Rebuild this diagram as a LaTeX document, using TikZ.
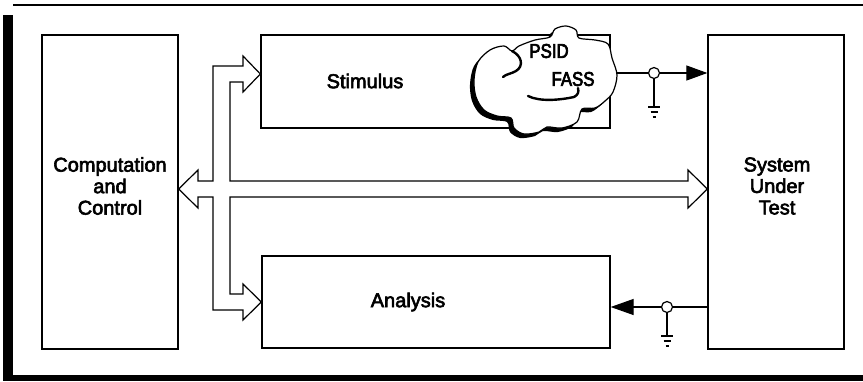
\documentclass[tikz,border=0pt]{standalone}
\usepackage{fontspec}
\setmainfont{Liberation Sans}[AutoFakeBold=3]
\newfontfamily\cloudfont{Liberation Sans}[FakeStretch=0.84, FakeBold=3.5]
\usetikzlibrary{arrows.meta}
\tikzset{
  blockbox/.style={draw=black, line width=1.3pt, minimum width=#1, inner sep=0pt, fill=white},
  lbl/.style={font=\bfseries\fontsize{20}{21.5}\selectfont, align=center, inner sep=0pt},
  cloudlbl/.style={font=\cloudfont\fontsize{20}{22}\selectfont, inner sep=0pt},
  busline/.style={draw=black, line width=1.2pt, fill=white, line join=miter},
  sigline/.style={line width=1.2pt},
  coax/.style={circle, draw=black, fill=white, line width=1.2pt, minimum size=11pt, inner sep=0pt},
  gnd/.style={line width=1.3pt},
}
\begin{document}
\begin{tikzpicture}[x=1pt,y=-1pt]
\useasboundingbox (0,0) rectangle (863,381);
% frame
\draw[line width=1.6pt] (13,5) -- (863,5);
\fill (3,15) rectangle (13,381);
\fill (3,375) rectangle (863,381);

% blocks
\node[blockbox=136pt, minimum height=314pt] (cc) at (110,192) {};
\node[blockbox=349pt, minimum height=93pt] (stim) at (435.5,81.5) {};
\node[blockbox=348pt, minimum height=92pt] (ana) at (436,302) {};
\node[blockbox=136pt, minimum height=314pt] (sut) at (776,192) {};

\node[lbl] (cctext) at (110,186) {Computation\\and\\Control};
\node[lbl] (suttext) at (777,186) {System\\Under\\Test};
\node[lbl] (stimtext) at (365,81) {Stimulus};
\node[lbl] (anatext) at (408,302) {Analysis};

% bus
\coordinate (ltip) at (cc.east |- 0,189);
\coordinate (rtip) at (sut.west |- 0,189);
\coordinate (utip) at (stim.west |- 0,74);
\coordinate (dtip) at (ana.west |- 0,302);
\path[busline] (ltip) -- (198,170) -- (198,181) -- (213,181) -- (213,66) -- (243,66)
  -- (243,56) -- (utip) -- (243,92) -- (243,82) -- (230,82) -- (230,181)
  -- (688,181) -- (688,170) -- (rtip) -- (688,208) -- (688,197) -- (230,197)
  -- (230,294) -- (243,294) -- (243,284) -- (dtip) -- (243,320) -- (243,310)
  -- (213,310) -- (213,197) -- (198,197) -- (198,208) -- cycle;

% cloud (PSID / FASS)
\def\cloudpath{plot[smooth cycle, tension=0.55] coordinates {
 (478,62) (490,50) (504,46) (512,51) (519,46) (535,40) (550,37)
 (555,29) (566,26) (576,30) (579,38) (595,40) (608,44)
 (612,58) (617,75) (613,92) (605,101) (595,108) (582,109)
 (577,122) (562,128) (547,127) (539,132) (524,134) (514,128) (511,118)
 (497,116) (484,110) (476,97) (474,80)}}
\fill[black] [shift={(-4,4)}] \cloudpath;
\draw[line width=1.2pt, fill=white] \cloudpath;
\draw[line width=2.4pt, line cap=round] (512,51) .. controls (522,56) and (524,66) .. (516,71)
  .. controls (511,74) and (506,74) .. (503,77);
\draw[line width=2.4pt, line cap=round] (528,96) .. controls (540,102) and (560,100) .. (574,97)
  .. controls (578,95) and (579,92) .. (578,88);
\node[cloudlbl] (psid) at (549,51) {PSID};
\node[cloudlbl] (fass) at (573,79) {FASS};
\coordinate (cloudout) at (617,73);

% stimulus output signal
\node[coax] (c1) at (654,73) {};
\draw[sigline, -{Triangle[length=21pt,width=15pt]}] (cloudout) -- (c1.west) (c1.east) -- (sut.west |- c1);
\draw[gnd] (c1.south) -- (654,107);
\draw[gnd] (648,107) -- (660,107);
\draw[gnd] (650.5,112) -- (657.5,112);
\draw[gnd] (652.5,117) -- (655.5,117);

% analysis input signal
\node[coax] (c2) at (667,307) {};
\draw[sigline, -{Triangle[length=23pt,width=16pt]}] (sut.west |- c2) -- (c2.east) (c2.west) -- (ana.east |- c2);
\draw[gnd] (c2.south) -- (667,336);
\draw[gnd] (661,336) -- (673,336);
\draw[gnd] (663.5,341) -- (670.5,341);
\draw[gnd] (665.5,346) -- (668.5,346);
\end{tikzpicture}
\end{document}
